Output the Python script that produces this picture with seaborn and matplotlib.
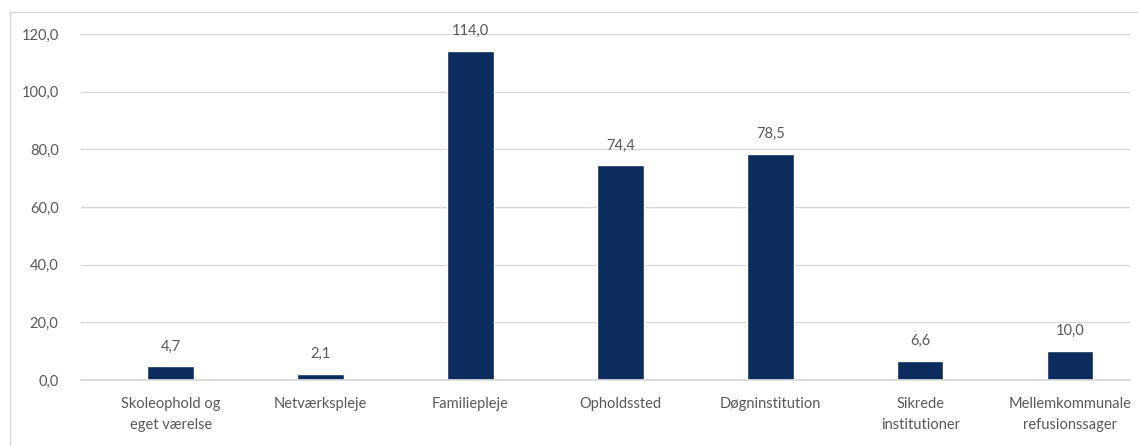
import matplotlib.pyplot as plt
import matplotlib.patches as mpatches
import pandas as pd
import seaborn as sns

# Data
categories = [
    "Skoleophold og\neget værelse",
    "Netværkspleje",
    "Familiepleje",
    "Opholdssted",
    "Døgninstitution",
    "Sikrede\ninstitutioner",
    "Mellemkommunale\nrefusionssager",
]
values = [4.7, 2.1, 114.0, 74.4, 78.5, 6.6, 10.0]
y_ticks = [0, 20, 40, 60, 80, 100, 120]

df = pd.DataFrame({"kategori": categories, "vaerdi": values})

sns.set_theme(style="white")
plt.rcParams["font.family"] = ["Lato", "DejaVu Sans"]

bar_color = "#0b2c5c"
text_color = "#595959"

fig = plt.figure(figsize=(11.38, 4.46), dpi=100)
ax = fig.add_axes([0.071, 0.148, 0.922, 0.776])

sns.barplot(data=df, x="kategori", y="vaerdi", color=bar_color,
            width=0.31, saturation=1, ax=ax)

# Dataetiketter
for i, v in enumerate(values):
    ax.text(i, v + 4.5, f"{v:.1f}".replace(".", ","), ha="center", va="bottom",
            fontsize=10.5, color=text_color)

ax.set_ylim(0, 120)
ax.set_xlim(-0.6, 6.4)
ax.set_yticks(y_ticks)
ax.set_yticklabels([f"{t:.1f}".replace(".", ",") for t in y_ticks])
ax.yaxis.grid(True, color="#d9d9d9", linewidth=1)
ax.set_axisbelow(True)
ax.set_xlabel("")
ax.set_ylabel("")
ax.tick_params(axis="both", length=0, labelsize=10.5, colors=text_color)
ax.tick_params(axis="y", pad=16)
ax.tick_params(axis="x", pad=12)
for lbl in ax.get_xticklabels():
    lbl.set_linespacing(1.7)
    lbl.set_multialignment("center")
for s in ["top", "right", "left"]:
    ax.spines[s].set_visible(False)
ax.spines["bottom"].set_color("#d9d9d9")

# Ramme om diagrammet
fig.patches.append(mpatches.Rectangle((0.009, -0.01), 1.0, 0.983, transform=fig.transFigure,
                                      fill=False, edgecolor="#d9d9d9", linewidth=1))

fig.savefig("out.png", dpi=100)
